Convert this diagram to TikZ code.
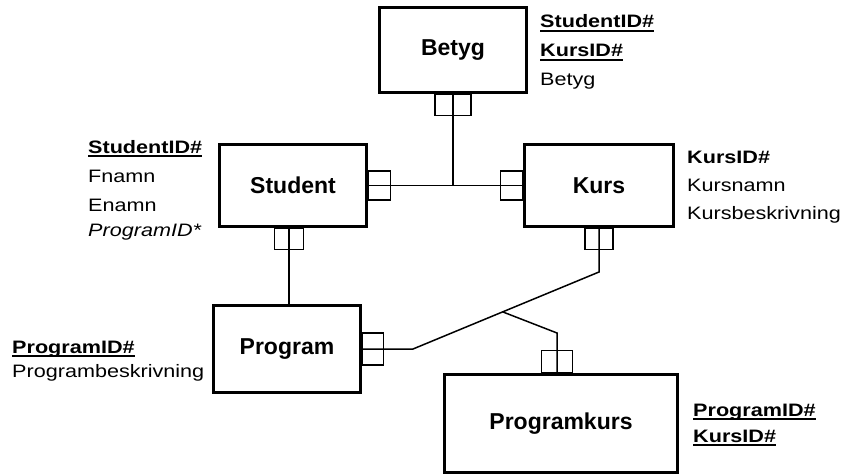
\documentclass[tikz,border=0pt]{standalone}
\usepackage{fontspec}
\setmainfont{Liberation Sans}
\newfontfamily\attrfont[FakeStretch=1.2]{Liberation Sans}
\newcommand\idkey[1]{\setbox0\hbox{\textbf{#1}}\rlap{\rule[-4pt]{\wd0}{1.6pt}}\box0}
\tikzset{
  entity/.style={draw, line width=3pt, inner sep=0pt, font=\fontsize{23}{23}\selectfont\bfseries},
  keybox/.style={draw, line width=1.2pt, inner sep=0pt},
  attr/.style={align=left, inner sep=0pt, anchor=base west},
  link/.style={line width=1.5pt},
}
\begin{document}
\begin{tikzpicture}[x=1pt, y=-1pt]
        \useasboundingbox (0,0) rectangle (843,476);

        \node[entity, minimum width=147pt, minimum height=85pt] (betyg) at (453, 50) {Betyg};
        \node[entity, minimum width=147pt, minimum height=82pt] (student) at (293, 185.5) {Student};
        \node[entity, minimum width=149pt, minimum height=82pt] (kurs) at (599, 185.5) {Kurs};
        \node[entity, minimum width=147pt, minimum height=87pt] (program) at (287, 349) {Program};
        \node[entity, minimum width=233pt, minimum height=98pt] (programkurs) at (561, 423.5) {Programkurs};

        \node[keybox, minimum width=36pt, minimum height=21pt, anchor=north] (bdown) at (betyg.south) {};
        \node[keybox, minimum width=22pt, minimum height=29pt, anchor=west] (sright) at (student.east) {};
        \node[keybox, minimum width=22pt, minimum height=29pt, anchor=east] (kleft) at (kurs.west) {};
        \node[keybox, minimum width=29pt, minimum height=21pt, anchor=north] (sdown) at ([xshift=-4pt]student.south) {};
        \node[keybox, minimum width=28pt, minimum height=21pt, anchor=north] (kdown) at (kurs.south) {};
        \node[keybox, minimum width=21pt, minimum height=32pt, anchor=west] (pright) at (program.east) {};
        \node[keybox, minimum width=31pt, minimum height=22pt, anchor=south] (pkup) at ([xshift=-4pt]programkurs.north) {};

        \coordinate (junction) at (betyg.south |- student.east);
        \coordinate (pbend) at (413, 349);
        \coordinate (kbend) at (599, 272);
        \coordinate (split) at (503, 312);
        \coordinate (pkbend) at (557, 333);

        \draw[link] (betyg.south) -- (junction);
        \draw[link] (student.east) -- (kurs.west);
        \draw[link] (sdown.north) -- (sdown.north |- program.north);
        \draw[link] (program.east) -- (pbend) -- (kbend) -- (kurs.south);
        \draw[link] (split) -- (pkbend) -- (pkup.south);

        % attribute lists, placed at the baseline of their last line
        \node[attr, font=\attrfont\fontsize{18}{29}\selectfont] (betygattr) at (540, 86)
          {\idkey{StudentID\#}\\ \idkey{KursID\#}\\ Betyg};
        \node[attr, font=\attrfont\fontsize{18}{29}\selectfont] (studentattr) at (88, 236)
          {\idkey{StudentID\#}\\ Fnamn\\ Enamn\\[-4pt] \textit{ProgramID*}};
        \node[attr, font=\attrfont\fontsize{18}{28}\selectfont] (kursattr) at (687, 219)
          {\textbf{KursID\#}\\ Kursnamn\\ Kursbeskrivning};
        \node[attr, font=\attrfont\fontsize{18}{24}\selectfont] (programattr) at (12, 377)
          {\idkey{ProgramID\#}\\ Programbeskrivning};
        \node[attr, font=\attrfont\fontsize{18}{26}\selectfont] (programkursattr) at (693, 442)
          {\idkey{ProgramID\#}\\ \idkey{KursID\#}};

    \end{tikzpicture}
\end{document}
